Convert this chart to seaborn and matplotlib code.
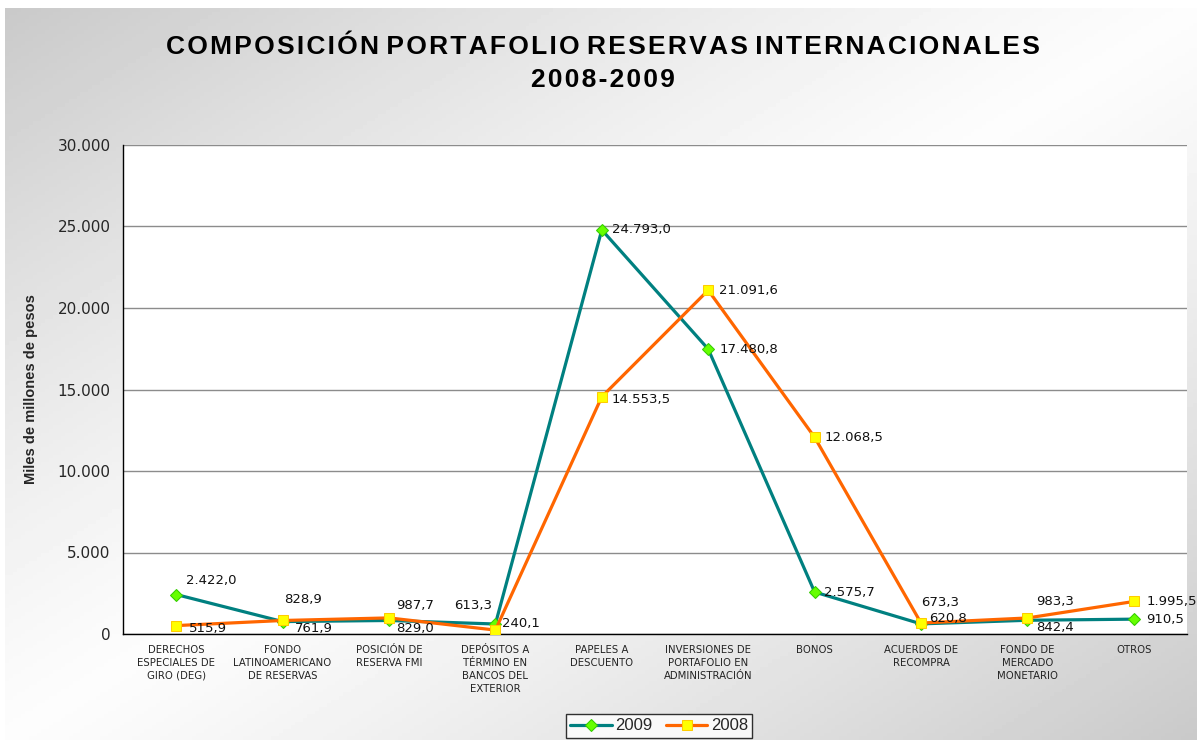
import numpy as np
import pandas as pd
import matplotlib
matplotlib.use("Agg")
import matplotlib.pyplot as plt
import seaborn as sns

categories = [
    "DERECHOS\nESPECIALES DE\nGIRO (DEG)",
    "FONDO\nLATINOAMERICANO\nDE RESERVAS",
    "POSICIÓN DE\nRESERVA FMI",
    "DEPÓSITOS A\nTÉRMINO EN\nBANCOS DEL\nEXTERIOR",
    "PAPELES A\nDESCUENTO",
    "INVERSIONES DE\nPORTAFOLIO EN\nADMINISTRACIÓN",
    "BONOS",
    "ACUERDOS DE\nRECOMPRA",
    "FONDO DE\nMERCADO\nMONETARIO",
    "OTROS",
]
values_2009 = [2422.0, 761.9, 829.0, 613.3, 24793.0, 17480.8, 2575.7, 620.8, 842.4, 910.5]
values_2008 = [515.9, 828.9, 987.7, 240.1, 14553.5, 21091.6, 12068.5, 673.3, 983.3, 1995.5]
y_ticks = [0, 5000, 10000, 15000, 20000, 25000, 30000]

# label offsets in points (dx, dy, ha)
offsets_2009 = [(7, 10, "left"), (9, -5, "left"), (5, -6, "left"), (-2, 13, "right"),
                (7, 0, "left"), (8, 0, "left"), (7, 0, "left"), (6, 4, "left"),
                (6, -5, "left"), (9, 0, "left")]
offsets_2008 = [(9, -2, "left"), (1, 15, "left"), (5, 9, "left"), (5, 5, "left"),
                (7, -2, "left"), (8, 0, "left"), (7, 0, "left"), (0, 15, "left"),
                (6, 12, "left"), (9, 0, "left")]


def fmt_es(v, decimals=1):
    s = f"{v:,.{decimals}f}"
    return s.replace(",", "X").replace(".", ",").replace("X", ".")


def spaced(text):
    # wide letter spacing like the original title
    return " ".join("\u200a".join(w) for w in text.split(" "))


sns.set_style("white")
plt.rcParams["font.family"] = ["DejaVu Sans"]

fig = plt.figure(figsize=(11.97, 7.40), dpi=100)

# gradient background
bg = fig.add_axes([5 / 1197, 0, 1 - 5 / 1197, 1 - 8 / 740], zorder=-10)
u = np.linspace(0, 1, 300)
v = np.linspace(0, 1, 200)
U, V = np.meshgrid(u, v)
t = np.abs(U + V - 1)
shade = 0.99 - 0.2 * t ** 1.2
bg.imshow(shade, cmap="gray", vmin=0, vmax=1, aspect="auto", extent=[0, 1, 1, 0])
bg.axis("off")

ax = fig.add_axes([123 / 1197, 1 - 634 / 740, (1187 - 123) / 1197, (634 - 145) / 740])
ax.set_facecolor("white")

x = np.arange(len(categories)) + 0.5
df = pd.DataFrame({"pos": np.concatenate([x, x]),
                   "valor": values_2009 + values_2008,
                   "serie": ["2009"] * 10 + ["2008"] * 10})

sns.lineplot(data=df[df.serie == "2009"], x="pos", y="valor", ax=ax, color="#008080",
             linewidth=2.3, marker="D", markersize=6, markerfacecolor="#66ff00",
             markeredgecolor="#33cc00", label="2009", zorder=3)
sns.lineplot(data=df[df.serie == "2008"], x="pos", y="valor", ax=ax, color="#ff6600",
             linewidth=2.3, marker="s", markersize=7.5, markerfacecolor="#ffff00",
             markeredgecolor="#ffcc00", label="2008", zorder=4)

for xi, val, (dx, dy, ha) in zip(x, values_2009, offsets_2009):
    ax.annotate(fmt_es(val), (xi, val), xytext=(dx, dy), textcoords="offset points",
                ha=ha, va="center", fontsize=9.5, color="#111111", zorder=6)
for xi, val, (dx, dy, ha) in zip(x, values_2008, offsets_2008):
    ax.annotate(fmt_es(val), (xi, val), xytext=(dx, dy), textcoords="offset points",
                ha=ha, va="center", fontsize=9.5, color="#111111", zorder=6)

ax.set_xlim(0, len(categories))
ax.set_ylim(0, 30000)
ax.set_yticks(y_ticks)
ax.set_yticklabels([fmt_es(t, 0) for t in y_ticks], fontsize=11)
ax.set_xticks(x)
ax.set_xticklabels(categories, fontsize=7.3, color="#222222", linespacing=1.35)
ax.set_xticks(np.arange(len(categories) + 1), minor=True)
ax.tick_params(axis="x", which="major", length=0, pad=8)
ax.tick_params(axis="x", which="minor", length=5, width=1, color="black", direction="out")
ax.tick_params(axis="y", length=5, width=1, color="black", direction="out", pad=4)
ax.yaxis.grid(True, color="#8c8c8c", linewidth=1)
ax.set_axisbelow(True)
for side in ["top", "right"]:
    ax.spines[side].set_visible(False)
for side in ["left", "bottom"]:
    ax.spines[side].set_color("black")
    ax.spines[side].set_linewidth(1)
ax.set_xlabel("")
ax.set_ylabel("Miles de millones de pesos", fontsize=10.5, fontweight="bold",
              family="Liberation Sans", labelpad=14)

ax.legend_.remove()
handles, labels = ax.get_legend_handles_labels()
leg = fig.legend(handles, labels, loc="center", bbox_to_anchor=(659 / 1197, 1 - 726 / 740),
                 ncol=2, frameon=True, fancybox=False, edgecolor="black",
                 prop={"family": "Liberation Sans", "size": 12},
                 handlelength=2.5, handletextpad=0.2, columnspacing=0.8,
                 borderpad=0.25)
leg.get_frame().set_linewidth(1)
leg.get_frame().set_facecolor("white")

fig.text(603 / 1197, 1 - 47 / 740, spaced("COMPOSICIÓN PORTAFOLIO RESERVAS INTERNACIONALES"),
         ha="center", va="center", fontsize=19, fontweight="bold", family="Liberation Sans",
         color="black")
fig.text(603 / 1197, 1 - 80 / 740, spaced("2008-2009"), ha="center", va="center",
         fontsize=19, fontweight="bold", family="Liberation Sans", color="black")

fig.savefig("out.png", dpi=100)
